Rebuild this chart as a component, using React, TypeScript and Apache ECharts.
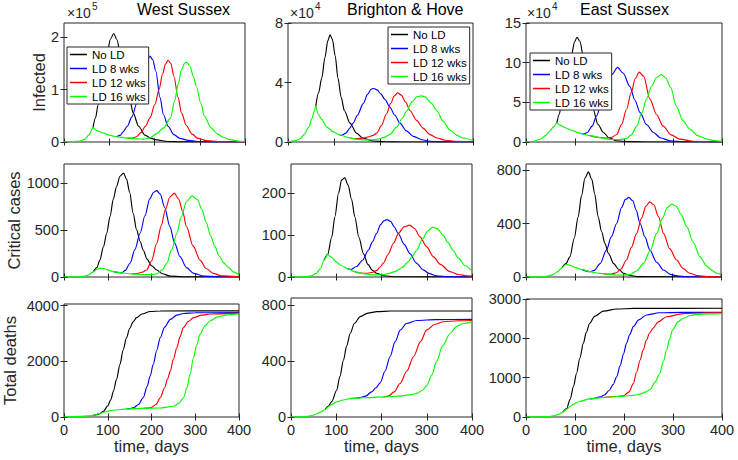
import React, { useEffect, useRef } from 'react';
import * as echarts from 'echarts';

type Pt = [number, number];

// ---------------- labels ----------------
const seriesNames = ['No LD', 'LD 8 wks', 'LD 12 wks', 'LD 16 wks'];
const seriesColors = ['#000000', '#0000ff', '#ff0000', '#00ff00'];
const regionTitles = ['West Sussex', 'Brighton & Hove', 'East Sussex'];
const rowLabels = ['Infected', 'Critical cases', 'Total deaths'];
const xAxisTitle = 'time, days';
const infectedExponents = ['5', '4', '4'];

// ---------------- tick values ----------------
const xTicks = [0, 100, 200, 300, 400];
const wsInfTicks = [0, 1, 2];
const bhInfTicks = [0, 4, 8];
const esInfTicks = [0, 5, 10, 15];
const wsCritTicks = [0, 500, 1000];
const bhCritTicks = [0, 100, 200];
const esCritTicks = [0, 400, 800];
const wsDeathTicks = [0, 2000, 4000];
const bhDeathTicks = [0, 400, 800];
const esDeathTicks = [0, 1000, 2000, 3000];

// Curves. Where a curve runs hidden under the
// "LD 16 wks" curve (drawn on top), only its visible part is listed.

// ---------------- Infected (West Sussex x1e5, others x1e4) ----------------
const wsInfNoLD: Pt[] = [[64,0.27],[70,0.47],[75,0.7],[85,1.2],[95,1.7],[103,1.97],[110,2.07],[117,1.95],[125,1.65],[132,1.33],[139,1.05],[146,0.78],[153,0.55],[165,0.3],[179,0.13],[192,0.07],[205,0.04],[230,0.01],[260,0.002],[400,0]];
const wsInf8: Pt[] = [[116,0.1],[125,0.13],[130,0.19],[140,0.3],[150,0.48],[161,0.74],[170,1.05],[178,1.35],[184,1.55],[190,1.64],[196,1.57],[203,1.35],[212,0.85],[220,0.52],[230,0.3],[243,0.14],[256,0.07],[275,0.03],[300,0.01],[330,0.003],[400,0]];
const wsInf12: Pt[] = [[140,0.075],[150,0.075],[160,0.1],[170,0.18],[180,0.3],[190,0.46],[201,0.72],[210,1.0],[218,1.3],[224,1.48],[230,1.56],[236,1.5],[243,1.25],[252,0.85],[260,0.55],[270,0.32],[283,0.15],[296,0.07],[315,0.025],[340,0.008],[400,0.001]];
const wsInf16: Pt[] = [[0,0],[20,0.004],[35,0.02],[45,0.05],[55,0.13],[64,0.27],[72,0.22],[87,0.17],[100,0.13],[116,0.1],[140,0.075],[160,0.06],[176,0.055],[190,0.08],[205,0.16],[220,0.27],[235,0.45],[245,0.8],[252,1.1],[260,1.38],[266,1.5],[271,1.52],[278,1.45],[286,1.25],[293,1.05],[302,0.75],[311,0.48],[325,0.27],[338,0.16],[352,0.09],[367,0.045],[385,0.018],[400,0.008]];

const bhInfNoLD: Pt[] = [[60,2.4],[66,3.3],[73,4.3],[80,5.7],[86,6.8],[91,7.2],[96,6.9],[102,5.8],[108,4.3],[115,3.0],[122,2.1],[134,1.27],[148,0.6],[162,0.25],[184,0.07],[210,0.02],[250,0],[400,0]];
const bhInf8: Pt[] = [[112,0.47],[116,0.45],[125,0.6],[133,0.9],[141,1.27],[150,1.8],[163,2.6],[172,3.2],[180,3.55],[186,3.6],[193,3.5],[200,3.25],[210,2.85],[220,2.35],[231,1.8],[242,1.27],[256,0.75],[271,0.38],[290,0.15],[307,0.05],[330,0.01],[400,0]];
const bhInf12: Pt[] = [[134,0.27],[144,0.23],[155,0.24],[165,0.28],[175,0.35],[184,0.45],[192,0.6],[202,1.1],[213,1.9],[222,2.6],[230,3.1],[237,3.3],[245,3.15],[254,2.7],[264,2.1],[278,1.45],[292,0.93],[307,0.5],[322,0.27],[340,0.12],[364,0.05],[400,0.01]];
const bhInf16: Pt[] = [[0,0],[15,0.08],[25,0.2],[35,0.5],[45,1.0],[52,1.6],[57,2.1],[60,2.4],[65,1.9],[72,1.55],[84,1.0],[98,0.68],[112,0.47],[134,0.27],[150,0.18],[165,0.14],[180,0.14],[195,0.2],[210,0.33],[220,0.5],[235,1.0],[247,1.6],[257,2.1],[268,2.7],[280,3.05],[289,3.1],[298,3.0],[310,2.6],[322,2.1],[335,1.4],[350,0.8],[365,0.45],[379,0.27],[400,0.1]];

const esInfNoLD: Pt[] = [[63,2.4],[68,3.5],[73,5.2],[80,7.0],[86,8.8],[93,11.0],[99,12.6],[104,13.2],[110,12.7],[117,10.8],[124,8.3],[130,6.0],[137,4.1],[147,2.2],[158,1.2],[170,0.5],[185,0.16],[210,0.04],[250,0],[400,0]];
const esInf8: Pt[] = [[110,1.1],[117,1.0],[125,1.2],[135,2.0],[144,3.3],[155,5.2],[165,7.0],[175,8.5],[187,9.4],[198,8.7],[212,7.0],[222,5.3],[233,3.7],[246,2.2],[260,1.2],[275,0.5],[294,0.16],[320,0.04],[400,0]];
const esInf12: Pt[] = [[131,0.8],[147,0.6],[155,0.52],[165,0.5],[175,0.6],[185,0.95],[195,2.2],[205,4.1],[215,6.3],[223,8.0],[231,8.8],[240,8.3],[253,5.4],[266,3.5],[280,2.0],[296,0.9],[314,0.37],[340,0.1],[400,0.01]];
const esInf16: Pt[] = [[0,0],[15,0.1],[29,0.35],[40,0.8],[49,1.4],[56,1.9],[63,2.4],[70,2.1],[80,1.8],[96,1.4],[110,1.1],[131,0.8],[150,0.55],[165,0.37],[175,0.32],[185,0.3],[195,0.33],[205,0.45],[215,0.9],[226,2.0],[236,3.6],[246,5.4],[256,7.0],[266,8.1],[276,8.5],[285,8.1],[295,6.9],[307,4.5],[320,2.7],[335,1.6],[350,0.8],[369,0.37],[385,0.17],[400,0.08]];

// ---------------- Critical cases ----------------
const wsCritNoLD: Pt[] = [[67,55],[75,100],[82,180],[90,320],[98,470],[105,641],[113,830],[120,960],[128,1070],[136,1103],[143,1040],[150,900],[158,677],[166,500],[174,380],[181,287],[190,190],[200,120],[212,74],[225,35],[242,10],[270,2],[400,0]];
const wsCrit8: Pt[] = [[115,55],[132,44],[140,70],[151,146],[162,290],[174,465],[185,650],[196,830],[205,900],[212,918],[220,880],[230,740],[242,535],[253,360],[265,216],[280,100],[296,39],[320,10],[350,2],[400,0]];
const wsCrit12: Pt[] = [[155,33],[165,36],[178,50],[189,74],[200,170],[212,358],[222,540],[232,720],[242,850],[252,890],[262,830],[271,700],[280,535],[295,330],[311,180],[325,90],[341,39],[360,12],[400,2]];
const wsCrit16: Pt[] = [[0,0],[30,2],[45,8],[55,20],[67,55],[75,80],[82,95],[90,90],[100,75],[115,55],[135,42],[155,33],[175,27],[195,25],[212,32],[225,75],[235,146],[246,290],[258,465],[268,640],[280,800],[293,862],[305,820],[315,720],[325,580],[335,440],[345,320],[355,220],[365,150],[375,105],[387,55],[400,21]];

const bhCritNoLD: Pt[] = [[73,40],[81,54],[90,95],[97,144],[105,200],[112,232],[119,237],[126,220],[134,185],[141,144],[150,95],[160,56],[170,30],[180,16],[189,9],[205,3],[230,0.5],[400,0]];
const bhCrit8: Pt[] = [[125,20],[132,18],[145,25],[158,40],[171,64],[180,84],[189,104],[198,125],[205,134],[212,137],[220,133],[228,120],[237,104],[250,78],[263,56],[277,33],[292,17],[306,8],[321,3],[350,0.5],[400,0]];
const bhCrit12: Pt[] = [[140,13],[150,10],[160,9],[170,9],[180,11],[190,16],[197,24],[204,33],[215,55],[226,80],[238,105],[250,120],[262,124],[273,116],[285,96],[300,72],[315,48],[330,30],[351,13],[370,6],[388,3],[400,2]];
const bhCrit16: Pt[] = [[0,0],[30,0.5],[45,3],[55,8],[65,20],[73,40],[81,54],[88,48],[100,36],[112,27],[125,20],[140,13],[160,8],[180,5],[200,5],[215,8],[230,13],[245,22],[258,35],[268,50],[278,64],[290,90],[302,110],[313,119],[324,115],[336,100],[347,82],[358,64],[370,45],[385,27],[400,14]];

const esCritNoLD: Pt[] = [[74,70],[82,100],[90,151],[99,290],[107,450],[114,610],[121,740],[128,786],[135,730],[141,620],[148,450],[155,340],[162,250],[169,177],[180,100],[190,58],[200,28],[212,12],[230,3],[400,0]];
const esCrit8: Pt[] = [[115,55],[131,40],[140,50],[152,100],[165,201],[175,300],[186,400],[196,520],[204,580],[211,595],[219,570],[226,500],[234,400],[244,300],[254,201],[268,110],[282,52],[296,20],[310,8],[330,2],[400,0]];
const esCrit12: Pt[] = [[150,28],[165,22],[175,22],[185,32],[195,60],[206,127],[216,220],[227,326],[237,440],[246,530],[254,562],[262,540],[272,450],[282,326],[295,210],[309,127],[322,65],[336,28],[352,10],[370,3],[400,0.5]];
const esCrit16: Pt[] = [[0,0],[30,1],[45,6],[55,18],[65,40],[74,70],[82,95],[90,88],[100,72],[115,55],[131,40],[150,28],[170,20],[186,15],[200,14],[213,18],[227,45],[241,102],[255,200],[268,326],[280,440],[290,520],[299,545],[308,530],[318,470],[330,375],[343,260],[357,151],[370,85],[381,50],[391,28],[400,18]];

// ---------------- Total deaths ----------------
const wsDeathNoLD: Pt[] = [[67,60],[75,85],[82,120],[90,200],[100,400],[107,620],[113,930],[120,1350],[128,1890],[135,2400],[143,2850],[150,3180],[158,3420],[166,3570],[178,3700],[197,3790],[220,3810],[400,3815]];
const wsDeath8: Pt[] = [[143,290],[150,300],[160,340],[170,450],[181,690],[190,1100],[197,1480],[204,1890],[212,2400],[220,2850],[230,3230],[243,3510],[258,3660],[273,3720],[300,3745],[400,3750]];
const wsDeath12: Pt[] = [[180,310],[190,320],[200,345],[210,450],[220,690],[230,1050],[237,1380],[243,1650],[250,2080],[258,2490],[265,2880],[273,3210],[284,3430],[296,3570],[315,3660],[334,3700],[400,3730]];
const wsDeath16: Pt[] = [[0,0],[37,20],[55,40],[67,60],[80,120],[90,170],[98,205],[115,250],[143,290],[180,310],[220,325],[250,385],[262,480],[273,690],[281,1050],[288,1530],[296,2130],[303,2580],[311,2970],[322,3280],[334,3450],[350,3590],[372,3670],[400,3700]];

const bhDeathNoLD: Pt[] = [[75,52],[82,75],[90,110],[101,192],[108,290],[116,408],[123,510],[131,600],[140,670],[153,720],[170,745],[190,755],[220,760],[400,760]];
const bhDeath8: Pt[] = [[131,132],[145,136],[153,139],[165,150],[178,180],[188,210],[197,245],[208,330],[219,434],[230,540],[242,624],[255,670],[278,692],[320,698],[400,700]];
const bhDeath12: Pt[] = [[204,144],[215,150],[228,180],[241,240],[256,330],[271,434],[286,540],[300,624],[318,665],[337,683],[370,690],[400,692]];
const bhDeath16: Pt[] = [[0,0],[20,1],[35,4],[45,10],[55,20],[65,35],[75,52],[82,72],[90,90],[101,108],[115,122],[131,132],[160,138],[204,144],[240,150],[265,160],[278,170],[290,190],[300,225],[311,300],[322,400],[335,510],[352,600],[366,650],[381,670],[400,680]];

const esDeathNoLD: Pt[] = [[75,120],[83,214],[90,450],[97,780],[103,1107],[110,1500],[117,1872],[123,2150],[130,2383],[140,2560],[158,2690],[185,2745],[220,2760],[400,2765]];
const esDeath8: Pt[] = [[130,460],[140,475],[151,510],[160,560],[170,680],[178,830],[185,1020],[192,1300],[199,1600],[205,1872],[212,2100],[219,2296],[230,2470],[246,2594],[272,2650],[320,2660],[400,2663]];
const esDeath12: Pt[] = [[160,500],[175,515],[193,530],[200,545],[210,640],[219,850],[226,1150],[233,1450],[239,1700],[246,1960],[252,2130],[259,2255],[270,2420],[287,2550],[321,2630],[360,2645],[400,2650]];
const esDeath16: Pt[] = [[0,0],[30,2],[45,10],[55,30],[65,60],[75,120],[83,200],[90,270],[96,320],[110,400],[130,460],[160,500],[198,530],[220,550],[232,580],[245,640],[253,700],[263,880],[273,1107],[280,1400],[287,1700],[293,1980],[299,2211],[310,2420],[321,2510],[335,2580],[348,2610],[375,2620],[400,2625]];

// ---------------- panel configuration ----------------
const panels = [
  { data: [wsInfNoLD, wsInf8, wsInf12, wsInf16], yMax: 2.27, yTicks: wsInfTicks },
  { data: [bhInfNoLD, bhInf8, bhInf12, bhInf16], yMax: 8, yTicks: bhInfTicks },
  { data: [esInfNoLD, esInf8, esInf12, esInf16], yMax: 15, yTicks: esInfTicks },
  { data: [wsCritNoLD, wsCrit8, wsCrit12, wsCrit16], yMax: 1200, yTicks: wsCritTicks },
  { data: [bhCritNoLD, bhCrit8, bhCrit12, bhCrit16], yMax: 270, yTicks: bhCritTicks },
  { data: [esCritNoLD, esCrit8, esCrit12, esCrit16], yMax: 845, yTicks: esCritTicks },
  { data: [wsDeathNoLD, wsDeath8, wsDeath12, wsDeath16], yMax: 4060, yTicks: wsDeathTicks },
  { data: [bhDeathNoLD, bhDeath8, bhDeath12, bhDeath16], yMax: 853, yTicks: bhDeathTicks },
  { data: [esDeathNoLD, esDeath8, esDeath12, esDeath16], yMax: 3000, yTicks: esDeathTicks },
];

// layout: [left, top, width, height]
const gridBoxes = [
  [64, 23, 181, 119], [288, 23, 185, 119], [526, 23, 196, 119],
  [64, 164, 175, 113], [291, 164, 181, 113], [526, 164, 195, 113],
  [64, 304, 175, 113], [291, 298, 181, 119], [526, 299, 196, 118],
];
const yNameGaps = [12.5, 36.5, 45.5];
const titlePos = [[137, 1], [347, 1], [580, 1]];
const expPos = [[67, 6], [290, 6], [527, 6]];
const legendPos = [[67, 47], [388, 27], [530, 53]];

const FONT = '"Liberation Sans", Arial, Helvetica, sans-serif';
const AX = '#262626';
const plain = (v: number) => String(v);

function buildOption() {
  const grid: any[] = [];
  const xAxis: any[] = [];
  const yAxis: any[] = [];
  const series: any[] = [];
  const tick = { inside: true, length: 3.5, lineStyle: { color: AX, width: 1 } };
  panels.forEach((p, i) => {
    const row = Math.floor(i / 3);
    const col = i % 3;
    const [l, t, w, h] = gridBoxes[i];
    grid.push({ left: l, top: t, width: w, height: h, show: true, borderColor: AX, borderWidth: 1, backgroundColor: 'rgba(0,0,0,0)' });
    xAxis.push({
      type: 'value', gridIndex: i, position: 'bottom', min: 0, max: 400, interval: 100,
      axisLine: { show: false }, splitLine: { show: false },
      axisTick: { ...tick, customValues: xTicks },
      axisLabel: { show: row === 2, customValues: xTicks, formatter: plain, margin: 5, fontSize: 14.5, color: AX, fontFamily: FONT },
      name: row === 2 ? xAxisTitle : '', nameLocation: 'middle', nameGap: 17,
      nameTextStyle: { fontSize: 16.5, color: AX, fontFamily: FONT },
    });
    xAxis.push({
      type: 'value', gridIndex: i, position: 'top', min: 0, max: 400, interval: 100,
      axisLine: { show: false }, splitLine: { show: false },
      axisTick: { ...tick, customValues: xTicks }, axisLabel: { show: false },
    });
    yAxis.push({
      type: 'value', gridIndex: i, position: 'left', min: 0, max: p.yMax,
      axisLine: { show: false }, splitLine: { show: false },
      axisTick: { ...tick, customValues: p.yTicks },
      axisLabel: { customValues: p.yTicks, formatter: plain, margin: 5, fontSize: 14.5, color: AX, fontFamily: FONT },
      name: col === 0 ? rowLabels[row] : '', nameLocation: 'middle', nameRotate: 90, nameGap: yNameGaps[row],
      nameTextStyle: { fontSize: 16.5, color: AX, fontFamily: FONT },
    });
    yAxis.push({
      type: 'value', gridIndex: i, position: 'right', min: 0, max: p.yMax,
      axisLine: { show: false }, splitLine: { show: false },
      axisTick: { ...tick, customValues: p.yTicks }, axisLabel: { show: false },
    });
    p.data.forEach((d, k) => {
      series.push({
        type: 'line', name: seriesNames[k], xAxisIndex: 2 * i, yAxisIndex: 2 * i,
        data: d, symbol: 'none', showSymbol: false, smooth: 0.3, smoothMonotone: 'x',
        lineStyle: { color: seriesColors[k], width: 1.15 }, itemStyle: { color: seriesColors[k] },
        z: 2 + k, silent: true, clip: true,
      });
    });
  });

  const title = regionTitles.map((txt, c) => ({
    text: txt, left: titlePos[c][0], top: titlePos[c][1], padding: 0,
    textStyle: { fontSize: 16, fontWeight: 'normal', color: '#000', fontFamily: FONT },
  }));

  const legend = legendPos.map(([l, t]) => ({
    left: l, top: t, orient: 'vertical', data: seriesNames, icon: 'rect',
    itemWidth: 17, itemHeight: 1.5, itemGap: 2, padding: [1.5, 3, 1.5, 3],
    borderColor: AX, borderWidth: 1, backgroundColor: '#ffffff', borderRadius: 0,
    selectedMode: false, z: 10,
    textStyle: { fontSize: 11.5, lineHeight: 12, color: '#000', fontFamily: FONT },
  }));

  const graphic: any[] = [];
  expPos.forEach(([l, t], c) => {
    graphic.push({ type: 'text', left: l, top: t, z: 20, style: { text: '×10', fontSize: 14, fill: AX, fontFamily: FONT } });
    graphic.push({ type: 'text', left: l + 25, top: t - 5, z: 20, style: { text: infectedExponents[c], fontSize: 10, fill: AX, fontFamily: FONT } });
  });

  return {
    animation: false,
    backgroundColor: '#ffffff',
    title, legend, grid, xAxis, yAxis, series, graphic,
  };
}

export default function App() {
  const ref = useRef<HTMLDivElement>(null);
  useEffect(() => {
    if (!ref.current) return;
    const chart = echarts.init(ref.current, undefined, { renderer: 'svg' });
    chart.setOption(buildOption() as any);
    return () => chart.dispose();
  }, []);
  return (
    <div
      ref={ref}
      style={{ position: 'fixed', left: 0, top: 0, width: 738, height: 460, background: '#ffffff' }}
    />
  );
}
